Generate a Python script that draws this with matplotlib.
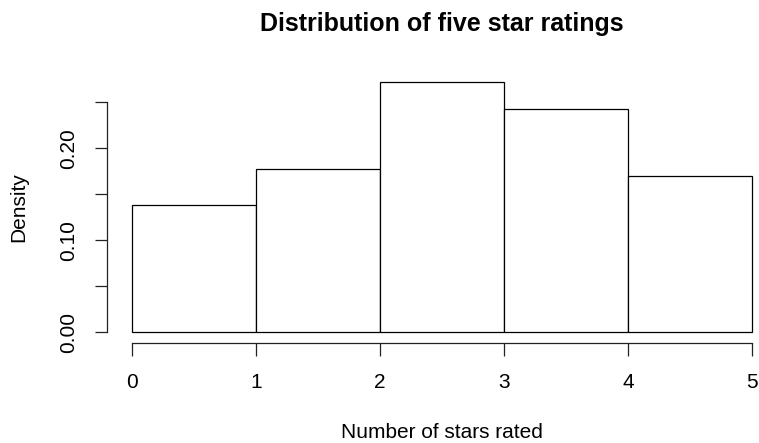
import matplotlib
matplotlib.use("Agg")
import matplotlib.pyplot as plt
import numpy as np

plt.rcParams['font.family'] = ['Liberation Sans', 'DejaVu Sans']

# Histogram of star ratings (density scale)
bin_edges = [0, 1, 2, 3, 4, 5]
densities = [0.1387, 0.1775, 0.2724, 0.2424, 0.1696]
x_ticks = [0, 1, 2, 3, 4, 5]
y_ticks = [0.00, 0.05, 0.10, 0.15, 0.20, 0.25]
y_tick_labels = ["0.00", "", "0.10", "", "0.20", ""]

W, H = 759, 443
fig = plt.figure(figsize=(W / 100, H / 100), dpi=100)
fig.patch.set_facecolor("white")

# plot region in pixels (left, right, top, bottom)
L, R, T, B = 107, 777, 71.7, 342.5
ax = fig.add_axes([L / W, 1 - B / H, (R - L) / W, (B - T) / H])

lefts = np.array(bin_edges[:-1])
widths = np.diff(bin_edges)
ax.bar(lefts, densities, width=widths, align="edge",
       facecolor="white", edgecolor="black", linewidth=0.9)

xmin, xmax = bin_edges[0], bin_edges[-1]
xr = xmax - xmin
ymax = max(densities)
ax.set_xlim(xmin - 0.04 * xr, xmax + 0.04 * xr)
ax.set_ylim(-0.04 * ymax, ymax * 1.04)

for s in ["top", "right"]:
    ax.spines[s].set_visible(False)
ax.spines["left"].set_bounds(y_ticks[0], y_ticks[-1])
ax.spines["bottom"].set_bounds(x_ticks[0], x_ticks[-1])
for s in ["left", "bottom"]:
    ax.spines[s].set_linewidth(0.9)
    ax.spines[s].set_color("#222222")

ax.set_xticks(x_ticks)
ax.set_xticklabels([str(v) for v in x_ticks])
ax.set_yticks(y_ticks)
ax.set_yticklabels(y_tick_labels, rotation=90, va="center")
ax.tick_params(axis="x", length=9, width=0.9, color="#222222",
               labelsize=15, pad=13)
ax.tick_params(axis="y", length=9, width=0.9, color="#222222",
               labelsize=15, pad=12)

ax.set_xlabel("Number of stars rated", fontsize=15, labelpad=22)
ax.set_ylabel("Density", fontsize=15, labelpad=22)
fig.text((L + R) / 2 / W, 1 - 24 / H, "Distribution of five star ratings",
         ha="center", va="center", fontsize=18, fontweight="bold")

fig.savefig("out.png", dpi=100)
